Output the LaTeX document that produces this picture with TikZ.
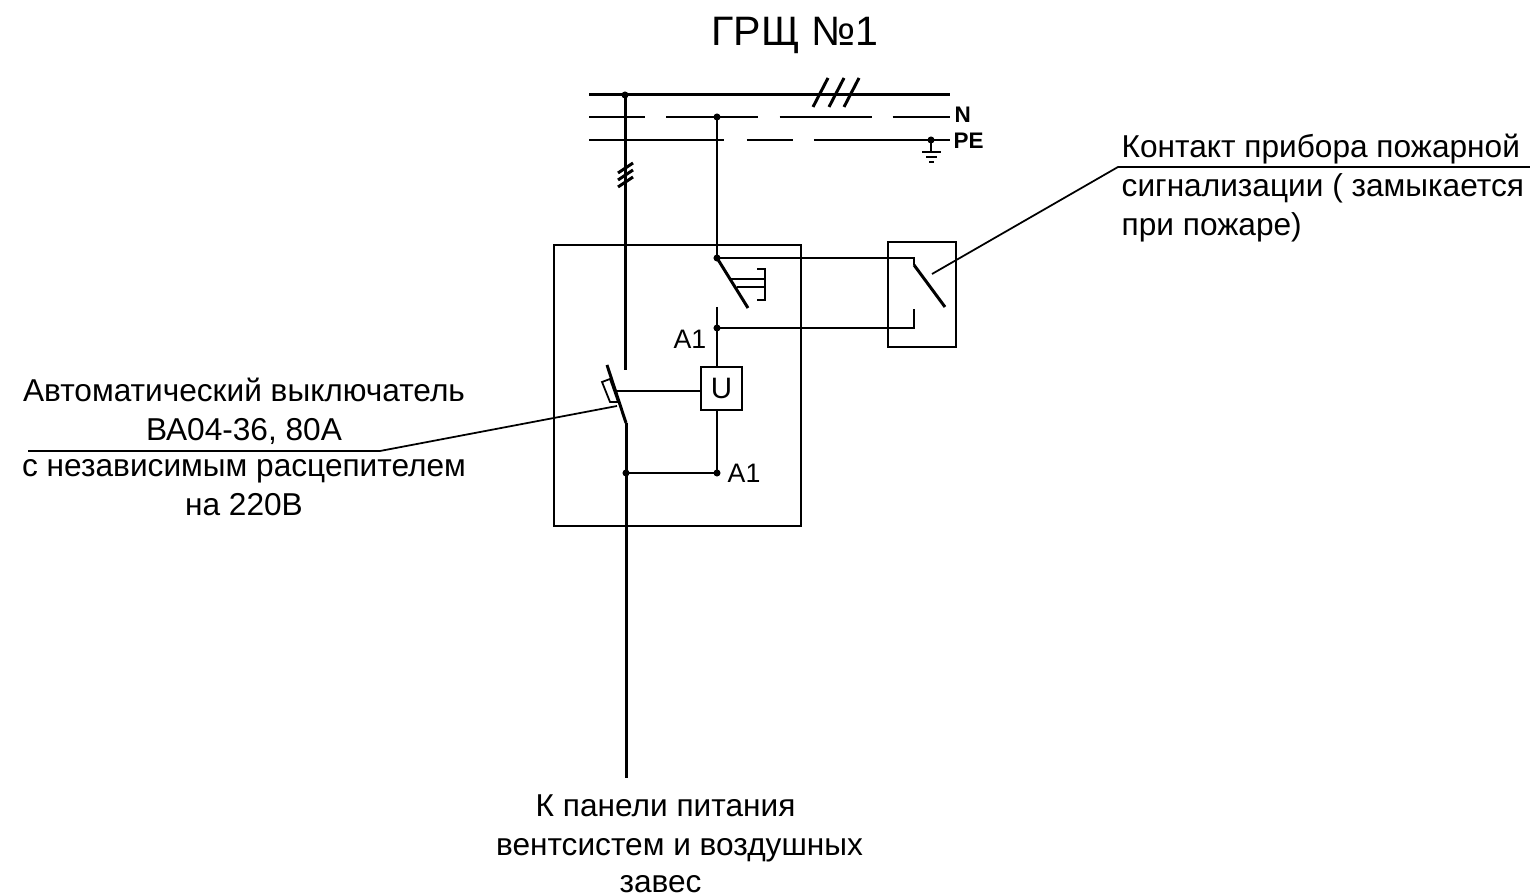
\documentclass[tikz,border=0pt]{standalone}
\usepackage{fontspec}
\setmainfont{Liberation Sans}
\tikzset{
  thin line/.style={line width=0.5pt},
  main line/.style={line width=0.85pt},
  dot/.style={circle,fill=black,inner sep=0pt,minimum size=2pt},
  caption/.style={font=\fontsize{9}{11}\selectfont,inner sep=0pt,align=center},
  small caption/.style={font=\fontsize{6.4}{8}\selectfont\bfseries,inner sep=0pt},
  contact caption/.style={font=\fontsize{7.6}{9}\selectfont,inner sep=0pt}
}

\begin{document}
\begin{tikzpicture}
  \useasboundingbox (0,-8.96) rectangle (15.3,0);

  % шины
  \coordinate (L west) at (5.89,-0.95);
  \coordinate (L east) at (9.50,-0.95);
  \coordinate (N west) at (5.89,-1.17);
  \coordinate (N east) at (9.50,-1.17);
  \coordinate (PE west) at (5.89,-1.40);
  \coordinate (PE east) at (9.50,-1.40);
  \draw[main line] (L west) -- (L east);
  \draw[thin line,dash pattern=on 26.2pt off 6pt,dash phase=10.2pt] (N west) -- (N east);
  \draw[thin line,dash pattern=on 38.4pt off 6.5pt on 13.1pt off 6pt on 38.7pt] (PE west) -- (PE east);
  \foreach \x in {8.13,8.29,8.44}
    \draw[main line] (\x,-1.07) -- ++(0.15,0.29);

  % главная линия и автомат
  \coordinate (feed top) at (6.25,-0.95);
  \coordinate (feed end) at (6.25,-3.70);
  \coordinate (hinge) at (6.26,-4.23);
  \coordinate (blade tip) at (6.07,-3.65);
  \coordinate (feed tap) at (6.26,-4.73);
  \coordinate (feed out) at (6.26,-7.78);
  \draw[main line] (feed top) -- (feed end);
  \draw[main line] (hinge) -- (feed out);
  \draw[main line] (hinge) -- (blade tip);
  \draw[thin line] (6.02,-3.82) -- (6.10,-3.79) -- (6.18,-4.02) -- (6.10,-4.02) -- cycle;
  \foreach \y in {1.73,1.80,1.87}
    \draw[main line] (6.18,-\y) -- ++(0.15,0.10);

  % корпус
  \node[draw,thin line,minimum width=2.47cm,minimum height=2.81cm,inner sep=0pt] (panel) at (6.775,-3.855) {};

  % контактор и расцепитель
  \coordinate (N tap) at (7.17,-1.17);
  \coordinate (upper tap) at (7.17,-2.58);
  \coordinate (relay tip) at (7.48,-3.08);
  \coordinate (relay low) at (7.17,-3.07);
  \coordinate (lower tap) at (7.17,-3.28);
  \coordinate (A1 tap) at (7.17,-4.73);
  \node[draw,thin line,minimum width=0.41cm,minimum height=0.43cm,inner sep=0pt,font=\fontsize{8.4}{10}\selectfont] (coil) at (7.215,-3.885) {U};
  \draw[thin line] (N tap) -- (upper tap);
  \draw[main line] (upper tap) -- (relay tip);
  \draw[thin line] (relay low) -- (lower tap) -- (lower tap |- coil.north);
  \draw[thin line] (lower tap |- coil.south) -- (A1 tap);
  \draw[thin line] (feed tap) -- (A1 tap);
  \draw[thin line] (6.15,-3.91) -- (coil.west |- 6.15,-3.91);
  \draw[thin line] (7.57,-2.69) -- (7.65,-2.69) -- (7.65,-3.00) -- (7.57,-3.00);
  \draw[thin line] (7.30,-2.79) -- (7.65,-2.79);
  \draw[thin line] (7.37,-2.87) -- (7.65,-2.87);

  % контакт сигнализации
  \node[draw,thin line,minimum width=0.68cm,minimum height=1.05cm,inner sep=0pt] (alarm) at (9.22,-2.945) {};
  \coordinate (alarm top) at (9.14,-2.58);
  \coordinate (alarm hinge) at (9.14,-2.65);
  \coordinate (alarm tip) at (9.45,-3.07);
  \coordinate (alarm low) at (9.14,-3.28);
  \coordinate (alarm end) at (9.14,-3.09);
  \draw[thin line] (upper tap) -- (alarm top) -- (alarm hinge);
  \draw[main line] (alarm hinge) -- (alarm tip);
  \draw[thin line] (lower tap) -- (alarm low) -- (alarm end);

  % земля
  \coordinate (PE tap) at (9.31,-1.40);
  \coordinate (earth) at (9.31,-1.52);
  \draw[thin line] (PE tap) -- (earth);
  \draw[thin line] (9.22,-1.52) -- (9.41,-1.52);
  \draw[thin line] (9.26,-1.57) -- (9.37,-1.57);
  \draw[thin line] (9.29,-1.62) -- (9.34,-1.62);

  % точки
  \foreach \p in {feed top,N tap,upper tap,lower tap,feed tap,A1 tap,PE tap}
    \node[dot] at (\p) {};

  % выноски
  \coordinate (left shelf) at (0.28,-4.51);
  \coordinate (left knee) at (3.80,-4.51);
  \coordinate (left end) at (6.17,-4.06);
  \coordinate (right shelf) at (15.30,-1.67);
  \coordinate (right knee) at (11.18,-1.67);
  \coordinate (right end) at (9.32,-2.74);
  \draw[thin line] (left shelf) -- (left knee) -- (left end);
  \draw[thin line] (right shelf) -- (right knee) -- (right end);

  % подписи
  \node[font=\fontsize{11.7}{14}\selectfont,inner sep=0pt] (title) at (7.95,-0.35) {ГРЩ №1};
  \node[small caption,anchor=west] (N label) at (9.54,-1.15) {N};
  \node[small caption,anchor=west] (PE label) at (9.53,-1.41) {PE};
  \node[contact caption,anchor=east] (A1 upper) at (7.07,-3.39) {A1};
  \node[contact caption,anchor=west] (A1 lower) at (7.27,-4.73) {A1};
  \node[caption] (breaker top) at (2.44,-4.115) {Автоматический выключатель\\[0.1pt]ВА04-36, 80А};
  \node[caption] (breaker low) at (2.44,-4.88) {с независимым расцепителем\\[0.1pt]на 220В};
  \node[caption,align=left,anchor=north west] (alarm text) at (11.21,-1.33) {Контакт прибора пожарной\\[0.1pt]сигнализации ( замыкается\\[0.1pt]при пожаре)};
  \node[caption] (load text) at (6.795,-8.44) {К панели питания\hspace*{0.28cm}\\[0.1pt]вентсистем и воздушных\\[-0.4pt]завес\hspace*{0.38cm}};
\end{tikzpicture}
\end{document}
